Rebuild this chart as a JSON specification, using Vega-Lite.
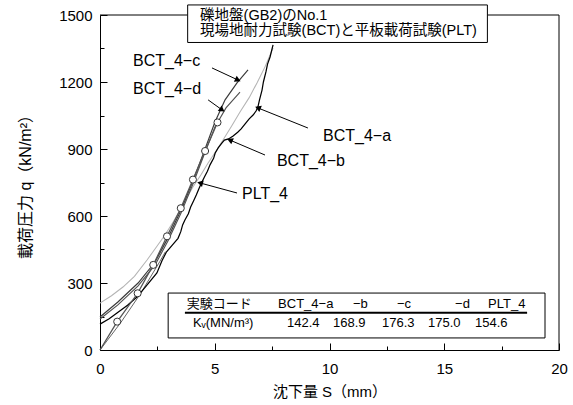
{
  "$schema": "https://vega.github.io/schema/vega-lite/v6.json",
  "width": 459,
  "height": 335,
  "autosize": {"type": "none"},
  "padding": {"left": 100, "top": 15, "right": 14, "bottom": 55},
  "background": "white",
  "config": {
    "view": {"stroke": null},
    "font": "Liberation Sans, Noto Sans CJK JP"
  },
  "datasets": {
    "curves": [
      {"s": "O", "i": 0, "x": 0, "y": 0},
      {"s": "O", "i": 1, "x": 0.9, "y": 122},
      {"s": "O", "i": 2, "x": 1.75, "y": 250},
      {"s": "O", "i": 3, "x": 2.6, "y": 395},
      {"s": "O", "i": 4, "x": 2.85, "y": 440},
      {"s": "BCT_4-b", "i": 0, "x": 0, "y": 210},
      {"s": "BCT_4-b", "i": 1, "x": 0.5, "y": 243},
      {"s": "BCT_4-b", "i": 2, "x": 1.0, "y": 282},
      {"s": "BCT_4-b", "i": 3, "x": 1.5, "y": 330},
      {"s": "BCT_4-b", "i": 4, "x": 2.05, "y": 403},
      {"s": "BCT_4-b", "i": 5, "x": 2.45, "y": 460},
      {"s": "BCT_4-b", "i": 6, "x": 2.83, "y": 515},
      {"s": "BCT_4-b", "i": 7, "x": 3.2, "y": 575},
      {"s": "BCT_4-b", "i": 8, "x": 3.49, "y": 627},
      {"s": "BCT_4-b", "i": 9, "x": 3.8, "y": 685},
      {"s": "BCT_4-b", "i": 10, "x": 4.05, "y": 730},
      {"s": "BCT_4-b", "i": 11, "x": 4.4, "y": 785},
      {"s": "BCT_4-b", "i": 12, "x": 4.71, "y": 837},
      {"s": "BCT_4-b", "i": 13, "x": 5.05, "y": 890},
      {"s": "BCT_4-b", "i": 14, "x": 5.36, "y": 940},
      {"s": "BCT_4-b", "i": 15, "x": 5.75, "y": 1005},
      {"s": "BCT_4-b", "i": 16, "x": 6.1, "y": 1066},
      {"s": "BCT_4-b", "i": 17, "x": 6.5, "y": 1130},
      {"s": "BCT_4-b", "i": 18, "x": 6.84, "y": 1196},
      {"s": "BCT_4-b", "i": 19, "x": 7.2, "y": 1270},
      {"s": "BCT_4-b", "i": 20, "x": 7.54, "y": 1352},
      {"s": "BCT_4-d", "i": 0, "x": 0, "y": 139},
      {"s": "BCT_4-d", "i": 1, "x": 0.78, "y": 202},
      {"s": "BCT_4-d", "i": 2, "x": 1.66, "y": 287},
      {"s": "BCT_4-d", "i": 3, "x": 2.4, "y": 381},
      {"s": "BCT_4-d", "i": 4, "x": 2.96, "y": 488},
      {"s": "BCT_4-d", "i": 5, "x": 3.53, "y": 613},
      {"s": "BCT_4-d", "i": 6, "x": 4.05, "y": 743},
      {"s": "BCT_4-d", "i": 7, "x": 4.53, "y": 873},
      {"s": "BCT_4-d", "i": 8, "x": 5.01, "y": 999},
      {"s": "BCT_4-d", "i": 9, "x": 5.49, "y": 1084},
      {"s": "BCT_4-d", "i": 10, "x": 6.1, "y": 1155},
      {"s": "BCT_4-c", "i": 0, "x": 0, "y": 148},
      {"s": "BCT_4-c", "i": 1, "x": 0.78, "y": 215},
      {"s": "BCT_4-c", "i": 2, "x": 1.66, "y": 300},
      {"s": "BCT_4-c", "i": 3, "x": 2.4, "y": 394},
      {"s": "BCT_4-c", "i": 4, "x": 2.96, "y": 502},
      {"s": "BCT_4-c", "i": 5, "x": 3.53, "y": 627},
      {"s": "BCT_4-c", "i": 6, "x": 4.05, "y": 757},
      {"s": "BCT_4-c", "i": 7, "x": 4.53, "y": 887},
      {"s": "BCT_4-c", "i": 8, "x": 5.01, "y": 1021},
      {"s": "BCT_4-c", "i": 9, "x": 5.45, "y": 1120},
      {"s": "BCT_4-c", "i": 10, "x": 5.97, "y": 1196},
      {"s": "BCT_4-c", "i": 11, "x": 6.45, "y": 1254},
      {"s": "BCT_4-a", "i": 0, "x": 0, "y": 116},
      {"s": "BCT_4-a", "i": 1, "x": 0.4, "y": 140},
      {"s": "BCT_4-a", "i": 2, "x": 0.74, "y": 166},
      {"s": "BCT_4-a", "i": 3, "x": 1.2, "y": 200},
      {"s": "BCT_4-a", "i": 4, "x": 1.61, "y": 237},
      {"s": "BCT_4-a", "i": 5, "x": 2.0, "y": 285},
      {"s": "BCT_4-a", "i": 6, "x": 2.48, "y": 345},
      {"s": "BCT_4-a", "i": 7, "x": 2.7, "y": 400},
      {"s": "BCT_4-a", "i": 8, "x": 2.9, "y": 440},
      {"s": "BCT_4-a", "i": 9, "x": 3.15, "y": 470},
      {"s": "BCT_4-a", "i": 10, "x": 3.4, "y": 500},
      {"s": "BCT_4-a", "i": 11, "x": 3.52, "y": 530},
      {"s": "BCT_4-a", "i": 12, "x": 3.6, "y": 560},
      {"s": "BCT_4-a", "i": 13, "x": 3.7, "y": 582},
      {"s": "BCT_4-a", "i": 14, "x": 3.85, "y": 610},
      {"s": "BCT_4-a", "i": 15, "x": 3.95, "y": 640},
      {"s": "BCT_4-a", "i": 16, "x": 4.08, "y": 668},
      {"s": "BCT_4-a", "i": 17, "x": 4.2, "y": 695},
      {"s": "BCT_4-a", "i": 18, "x": 4.3, "y": 720},
      {"s": "BCT_4-a", "i": 19, "x": 4.42, "y": 748},
      {"s": "BCT_4-a", "i": 20, "x": 4.55, "y": 775},
      {"s": "BCT_4-a", "i": 21, "x": 4.68, "y": 800},
      {"s": "BCT_4-a", "i": 22, "x": 4.8, "y": 830},
      {"s": "BCT_4-a", "i": 23, "x": 4.95, "y": 858},
      {"s": "BCT_4-a", "i": 24, "x": 5.02, "y": 882},
      {"s": "BCT_4-a", "i": 25, "x": 5.15, "y": 905},
      {"s": "BCT_4-a", "i": 26, "x": 5.3, "y": 925},
      {"s": "BCT_4-a", "i": 27, "x": 5.42, "y": 940},
      {"s": "BCT_4-a", "i": 28, "x": 5.6, "y": 945},
      {"s": "BCT_4-a", "i": 29, "x": 5.8, "y": 958},
      {"s": "BCT_4-a", "i": 30, "x": 6.0, "y": 975},
      {"s": "BCT_4-a", "i": 31, "x": 6.15, "y": 990},
      {"s": "BCT_4-a", "i": 32, "x": 6.35, "y": 1016},
      {"s": "BCT_4-a", "i": 33, "x": 6.5, "y": 1035},
      {"s": "BCT_4-a", "i": 34, "x": 6.67, "y": 1052},
      {"s": "BCT_4-a", "i": 35, "x": 6.8, "y": 1070},
      {"s": "BCT_4-a", "i": 36, "x": 6.88, "y": 1088},
      {"s": "BCT_4-a", "i": 37, "x": 6.95, "y": 1120},
      {"s": "BCT_4-a", "i": 38, "x": 7.06, "y": 1164},
      {"s": "BCT_4-a", "i": 39, "x": 7.12, "y": 1200},
      {"s": "BCT_4-a", "i": 40, "x": 7.23, "y": 1245},
      {"s": "BCT_4-a", "i": 41, "x": 7.3, "y": 1280},
      {"s": "BCT_4-a", "i": 42, "x": 7.41, "y": 1312},
      {"s": "BCT_4-a", "i": 43, "x": 7.54, "y": 1366},
      {"s": "PLT_4", "i": 0, "x": 0, "y": 0},
      {"s": "PLT_4", "i": 1, "x": 0.75, "y": 127},
      {"s": "PLT_4", "i": 2, "x": 1.64, "y": 254},
      {"s": "PLT_4", "i": 3, "x": 2.32, "y": 381},
      {"s": "PLT_4", "i": 4, "x": 2.92, "y": 509},
      {"s": "PLT_4", "i": 5, "x": 3.52, "y": 635},
      {"s": "PLT_4", "i": 6, "x": 4.05, "y": 763},
      {"s": "PLT_4", "i": 7, "x": 4.58, "y": 891},
      {"s": "PLT_4", "i": 8, "x": 5.12, "y": 1019}
    ],
    "arrows": [
      {"a": "c", "x": 4.88, "y": 1263, "x2": 6.01, "y2": 1209},
      {"a": "d", "x": 4.71, "y": 1120, "x2": 5.32, "y2": 1075},
      {"a": "a", "x": 9.06, "y": 994, "x2": 6.88, "y2": 1084},
      {"a": "b", "x": 7.19, "y": 873, "x2": 5.66, "y2": 940},
      {"a": "p", "x": 5.97, "y": 703, "x2": 4.36, "y2": 748}
    ],
    "labels": [
      {"t": "BCT_4−c", "x": 1.44, "y": 1294},
      {"t": "BCT_4−d", "x": 1.44, "y": 1169},
      {"t": "BCT_4−a", "x": 9.72, "y": 958},
      {"t": "BCT_4−b", "x": 7.71, "y": 846},
      {"t": "PLT_4", "x": 6.19, "y": 699}
    ],
    "boxtext": [
      {"t": "礫地盤(GB2)のNo.1", "x": 4.36, "y": 1497},
      {"t": "現場地耐力試験(BCT)と平板載荷試験(PLT)", "x": 4.36, "y": 1430}
    ],
    "tabtext": [
      {"t": "実験コード", "x": 3.78, "y": 206},
      {"t": "BCT_4−a", "x": 7.76, "y": 206},
      {"t": "−b", "x": 11.02, "y": 206},
      {"t": "−c", "x": 12.94, "y": 206},
      {"t": "−d", "x": 15.47, "y": 206},
      {"t": "PLT_4", "x": 16.91, "y": 206},
      {"t": "Kᵥ(MN/m³)", "x": 4.05, "y": 121},
      {"t": "142.4", "x": 8.15, "y": 121},
      {"t": "168.9", "x": 10.15, "y": 121},
      {"t": "176.3", "x": 12.29, "y": 121},
      {"t": "175.0", "x": 14.29, "y": 121},
      {"t": "154.6", "x": 16.34, "y": 121}
    ]
  },
  "resolve": {"axis": {"x": "independent", "y": "independent"}},
  "layer": [
    {
      "data": {"name": "curves"},
      "mark": {"type": "line", "interpolate": "linear"},
      "encoding": {
        "x": {
          "field": "x", "type": "quantitative",
          "scale": {"domain": [0, 20], "nice": false, "zero": false},
          "axis": {
            "orient": "bottom", "values": [0, 5, 10, 15, 20], "grid": false, "zindex": 0,
            "tickSize": -7, "tickColor": "black", "domainColor": "black",
            "labelFontSize": 15, "labelColor": "black", "labelFont": "Liberation Sans",
            "labelFlush": false, "labelPadding": 18,
            "title": "沈下量 S（mm）", "titleFontSize": 15, "titleFontWeight": "normal",
            "titleColor": "black", "titlePadding": 8,
            "titleFont": "Liberation Sans, Noto Sans CJK JP"
          }
        },
        "y": {
          "field": "y", "type": "quantitative",
          "scale": {"domain": [0, 1500], "nice": false, "zero": false},
          "axis": {
            "orient": "left", "values": [0, 300, 600, 900, 1200, 1500], "grid": false, "zindex": 0,
            "format": "d",
            "tickSize": -7, "tickColor": "black", "domainColor": "black",
            "labelFontSize": 15, "labelColor": "black", "labelFont": "Liberation Sans",
            "labelFlush": false, "labelPadding": 15,
            "title": "載荷圧力 q（kN/m²）", "titleFontSize": 16, "titleFontWeight": "normal",
            "titleColor": "black", "titlePadding": 25,
            "titleFont": "Liberation Sans, Noto Sans CJK JP"
          }
        },
        "color": {
          "field": "s", "type": "nominal", "legend": null,
          "scale": {
            "domain": ["O", "BCT_4-b", "BCT_4-d", "BCT_4-c", "BCT_4-a", "PLT_4"],
            "range": ["#666666", "#b4b4b4", "#505050", "#3a3a3a", "#000000", "#555555"]
          }
        },
        "strokeWidth": {
          "field": "s", "type": "nominal", "legend": null,
          "scale": {
            "domain": ["O", "BCT_4-b", "BCT_4-d", "BCT_4-c", "BCT_4-a", "PLT_4"],
            "range": [1, 1.3, 1.4, 1.4, 1.6, 1]
          }
        },
        "order": {"field": "i", "type": "quantitative"}
      }
    },
    {
      "data": {"name": "curves"},
      "transform": [{"filter": "datum.s == 'PLT_4' && datum.x > 0"}],
      "mark": {"type": "point", "shape": "circle", "filled": true, "fill": "white", "stroke": "#333333", "strokeWidth": 1, "size": 50, "opacity": 1},
      "encoding": {
        "x": {"field": "x", "type": "quantitative", "axis": null},
        "y": {"field": "y", "type": "quantitative", "axis": null}
      }
    },
    {
      "data": {"name": "arrows"},
      "mark": {"type": "rule", "color": "black", "strokeWidth": 1},
      "encoding": {
        "x": {"field": "x", "type": "quantitative", "axis": null},
        "y": {"field": "y", "type": "quantitative", "axis": null},
        "x2": {"field": "x2"},
        "y2": {"field": "y2"}
      }
    },
    {
      "data": {"name": "arrows"},
      "mark": {"type": "point", "shape": "triangle-right", "filled": true, "color": "black", "size": 45, "opacity": 1},
      "encoding": {
        "x": {"field": "x2", "type": "quantitative", "axis": null},
        "y": {"field": "y2", "type": "quantitative", "axis": null},
        "angle": {
          "field": "a", "type": "nominal", "legend": null,
          "scale": {"type": "ordinal", "domain": ["c", "d", "a", "b", "p"], "range": [24.8, 35.5, 201.8, 203.2, 195.1]}
        }
      }
    },
    {
      "data": {"name": "labels"},
      "mark": {"type": "text", "align": "left", "baseline": "middle", "fontSize": 16, "font": "Liberation Sans", "color": "black"},
      "encoding": {
        "x": {"field": "x", "type": "quantitative", "axis": null},
        "y": {"field": "y", "type": "quantitative", "axis": null},
        "text": {"field": "t"}
      }
    },
    {
      "data": {"values": [{}]},
      "mark": {"type": "rule", "color": "black", "strokeWidth": 1},
      "encoding": {
        "x": {"datum": 0, "type": "quantitative", "axis": null},
        "x2": {"datum": 3.82},
        "y": {"datum": 1500, "type": "quantitative", "axis": null}
      }
    },
    {
      "data": {"values": [{}]},
      "mark": {"type": "rule", "color": "black", "strokeWidth": 1},
      "encoding": {
        "x": {"datum": 16.88, "type": "quantitative", "axis": null},
        "x2": {"datum": 20},
        "y": {"datum": 1500, "type": "quantitative", "axis": null}
      }
    },
    {
      "data": {"values": [{}]},
      "mark": {"type": "rule", "color": "black", "strokeWidth": 1},
      "encoding": {
        "x": {"datum": 20, "type": "quantitative", "axis": null},
        "y": {"datum": 0, "type": "quantitative", "axis": null},
        "y2": {"datum": 1500}
      }
    },
    {
      "data": {"values": [{}]},
      "mark": {"type": "rect", "fill": "white", "stroke": "black", "strokeWidth": 1, "zindex": 5},
      "encoding": {
        "x": {"datum": 3.82, "type": "quantitative", "axis": null},
        "x2": {"datum": 16.88},
        "y": {"datum": 1545, "type": "quantitative", "axis": null},
        "y2": {"datum": 1377}
      }
    },
    {
      "data": {"name": "boxtext"},
      "mark": {"type": "text", "align": "left", "baseline": "middle", "fontSize": 14.5, "font": "Liberation Sans, Noto Sans CJK JP", "color": "black", "zindex": 6},
      "encoding": {
        "x": {"field": "x", "type": "quantitative", "axis": null},
        "y": {"field": "y", "type": "quantitative", "axis": null},
        "text": {"field": "t"}
      }
    },
    {
      "data": {"values": [{}]},
      "mark": {"type": "rect", "fill": "white", "stroke": "black", "strokeWidth": 1},
      "encoding": {
        "x": {"datum": 2.97, "type": "quantitative",
          "axis": {"orient": "bottom", "values": [2.5, 7.5, 12.5, 17.5], "labels": false, "domain": false, "grid": false, "zindex": 0, "tickSize": -4, "tickColor": "black", "title": null}},
        "x2": {"datum": 19.39},
        "y": {"datum": 255, "type": "quantitative",
          "axis": {"orient": "left", "values": [150, 450, 750, 1050, 1350], "labels": false, "domain": false, "grid": false, "zindex": 0, "tickSize": -4, "tickColor": "black", "title": null}},
        "y2": {"datum": 54}
      }
    },
    {
      "data": {"values": [{}]},
      "mark": {"type": "rule", "color": "black", "strokeWidth": 2},
      "encoding": {
        "x": {"datum": 3.7, "type": "quantitative", "axis": null},
        "x2": {"datum": 18.61},
        "y": {"datum": 167, "type": "quantitative", "axis": null}
      }
    },
    {
      "data": {"name": "tabtext"},
      "mark": {"type": "text", "align": "left", "baseline": "middle", "fontSize": 13, "font": "Liberation Sans, Noto Sans CJK JP", "color": "black"},
      "encoding": {
        "x": {"field": "x", "type": "quantitative", "axis": null},
        "y": {"field": "y", "type": "quantitative", "axis": null},
        "text": {"field": "t"}
      }
    }
  ]
}
